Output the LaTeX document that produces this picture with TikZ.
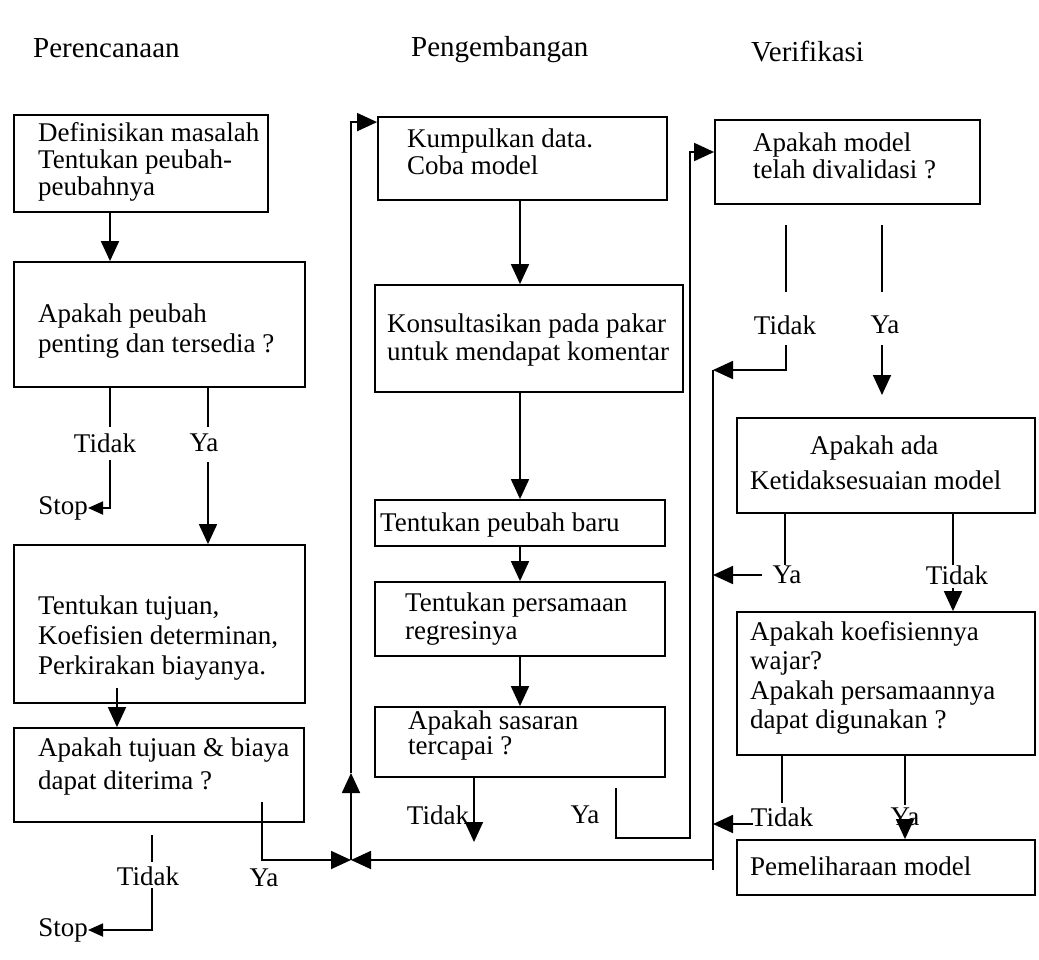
\documentclass[tikz,border=0pt]{standalone}
\usepackage{fontspec}
\setmainfont{Liberation Serif}
\usetikzlibrary{arrows.meta,calc}
\begin{document}
\begin{tikzpicture}[x=1pt,y=-1pt,
  box/.style={draw, line width=1.8pt, inner sep=0pt},
  txt/.style={font=\fontsize{27}{29}\selectfont, align=left, inner sep=0pt, anchor=north west},
  lbl/.style={font=\fontsize{27}{29}\selectfont, inner sep=0pt},
  head/.style={font=\fontsize{29}{32}\selectfont, inner sep=0pt, anchor=west},
  ln/.style={line width=1.8pt},
  arr/.style={line width=1.8pt, -{Triangle[length=20pt,width=18pt]}},
  sarr/.style={line width=1.8pt, -{Triangle[length=15pt,width=13pt]}},
]
\useasboundingbox (0,0) rectangle (1039,959);

% column headings
\node[head] (h1) at (33,48) {Perencanaan};
\node[head] (h2) at (411,50) {Pengembangan};
\node[head] (h3) at (751,52) {Verifikasi};

% ---------- planning column ----------
\node[box, minimum width=254pt, minimum height=97pt] (b1) at (141,163.5) {};
\node[txt, font=\fontsize{27}{27}\selectfont] (b1t) at (38,122) {Definisikan masalah\\Tentukan peubah-\\peubahnya};
\node[box, minimum width=291pt, minimum height=125pt] (b2) at (159.5,324.5) {};
\node[txt, font=\fontsize{27}{30}\selectfont] (b2t) at (38,304) {Apakah peubah\\penting dan tersedia ?};
\node[box, minimum width=291pt, minimum height=158pt] (b3) at (159.5,624) {};
\node[txt, font=\fontsize{27}{30}\selectfont] (b3t) at (38,596) {Tentukan tujuan,\\Koefisien determinan,\\Perkirakan biayanya.};
\node[box, minimum width=290pt, minimum height=94pt] (b4) at (159,775) {};
\node[txt, font=\fontsize{27}{33}\selectfont] (b4t) at (38,738) {Apakah tujuan \& biaya\\dapat diterima ?};

\node[lbl] (t1) at (105,443) {Tidak};
\node[lbl] (y1) at (204,443) {Ya};
\node[lbl, anchor=east] (s1) at (88,508) {Stop};
\node[lbl] (t2) at (148,876) {Tidak};
\node[lbl] (y2) at (264,878) {Ya};
\node[lbl, anchor=east] (s2) at (88,930) {Stop};

\coordinate (cA) at (110,0);
\coordinate (cB) at (208,0);
\coordinate (cC) at (117,0);

\draw[arr] (b1.south -| cA) -- (b2.north -| cA);
\draw[ln] (b2.south -| cA) -- (110,427);
\draw[sarr] (110,460) |- (s1.east);
\draw[ln] (b2.south -| cB) -- (208,427);
\draw[arr] (208,462) -- (b3.north -| cB);
\draw[arr] (117,688) -- (b4.north -| cC);
\draw[ln] (152,835) -- (152,862);
\draw[sarr] (152,888) |- (s2.east);

% junction feeding back to development
\coordinate (jn) at (351,860);
\coordinate (up) at (351,773);
\draw[arr] (262,802) |- (jn);
\draw[arr] (713,860) -- (jn);
\draw[arr] (jn) -- (up);

% ---------- development column ----------
\node[box, minimum width=289pt, minimum height=83pt] (m1) at (522.5,158.5) {};
\node[txt, font=\fontsize{27}{27}\selectfont] (m1t) at (407,129) {Kumpulkan data.\\Coba model};
\node[box, minimum width=308pt, minimum height=107pt] (m2) at (529,338.5) {};
\node[txt, font=\fontsize{27}{28}\selectfont] (m2t) at (387,314) {Konsultasikan pada pakar\\untuk mendapat komentar};
\node[box, minimum width=290pt, minimum height=46pt] (m3) at (520,523) {};
\node[txt] (m3t) at (380,513) {Tentukan peubah baru};
\node[box, minimum width=290pt, minimum height=74pt] (m4) at (520,619) {};
\node[txt, font=\fontsize{27}{28}\selectfont] (m4t) at (405,593) {Tentukan persamaan\\regresinya};
\node[box, minimum width=290pt, minimum height=70pt] (m5) at (520,742) {};
\node[txt, font=\fontsize{27}{25}\selectfont] (m5t) at (408,711) {Apakah sasaran\\tercapai ?};

\node[lbl] (t3) at (438,815) {Tidak};
\node[lbl] (y3) at (585,815) {Ya};

\coordinate (cM) at (520,0);
\coordinate (cT) at (474,0);
\draw[arr] (up) |- ($(m1.north west)+(0,6)$);
\draw[arr] (m1.south -| cM) -- (m2.north -| cM);
\draw[arr] (m2.south -| cM) -- (m3.north -| cM);
\draw[arr] (m3.south -| cM) -- (m4.north -| cM);
\draw[arr] (m4.south -| cM) -- (m5.north -| cM);
\draw[arr] (m5.south -| cT) -- (474,842);

% ---------- verification column ----------
\node[box, minimum width=265pt, minimum height=84pt] (v1) at (847.5,162) {};
\node[txt, font=\fontsize{27}{27}\selectfont] (v1t) at (753,133) {Apakah model\\telah divalidasi ?};
\node[box, minimum width=298pt, minimum height=95pt] (v2) at (886,465.5) {};
\node[txt, font=\fontsize{27}{35}\selectfont] (v2t) at (750,436) {\hspace*{60pt}Apakah ada\\Ketidaksesuaian model};
\node[box, minimum width=298pt, minimum height=143pt] (v3) at (886,683.5) {};
\node[txt, font=\fontsize{27}{29.5}\selectfont] (v3t) at (750,621) {Apakah koefisiennya\\wajar?\\Apakah persamaannya\\dapat digunakan ?};
\node[box, minimum width=298pt, minimum height=55pt] (v4) at (886,867.5) {};
\node[txt] (v4t) at (750,857) {Pemeliharaan model};

\node[lbl] (t4) at (785,325) {Tidak};
\node[lbl] (y4) at (885,325) {Ya};
\node[lbl] (y5) at (787,575) {Ya};
\node[lbl] (t5) at (957,575) {Tidak};
\node[lbl] (t6) at (782,817) {Tidak};
\node[lbl] (y6) at (905,817) {Ya};

% "Ya" from the goal check goes on to verification
\draw[arr] (616,788) |- (690,838) |- ($(v1.west)+(0,-10)$);

\draw[ln] (786,225) -- (786,292);
\draw[ln] (882,225) -- (882,292);
\draw[arr] (786,345) |- (713,370);
\draw[ln] (713,370) -- (713,870);
\draw[arr] (882,345) -- (882,395);

\coordinate (cK) at (785,0);
\coordinate (cL) at (953,0);
\draw[ln] (v2.south -| cK) -- (785,565);
\draw[arr] (762,575) -- (713,575);
\draw[ln] (v2.south -| cL) -- (953,565);
\draw[arr] (953,588) -- (v3.north -| cL);

\coordinate (cN) at (782,0);
\coordinate (cP) at (905,0);
\draw[ln] (v3.south -| cN) -- (782,803);
\draw[arr] (753,824) -- (713,824);
\draw[ln] (v3.south -| cP) -- (905,805);
\draw[arr] (905,822) -- (v4.north -| cP);
\end{tikzpicture}
\end{document}
